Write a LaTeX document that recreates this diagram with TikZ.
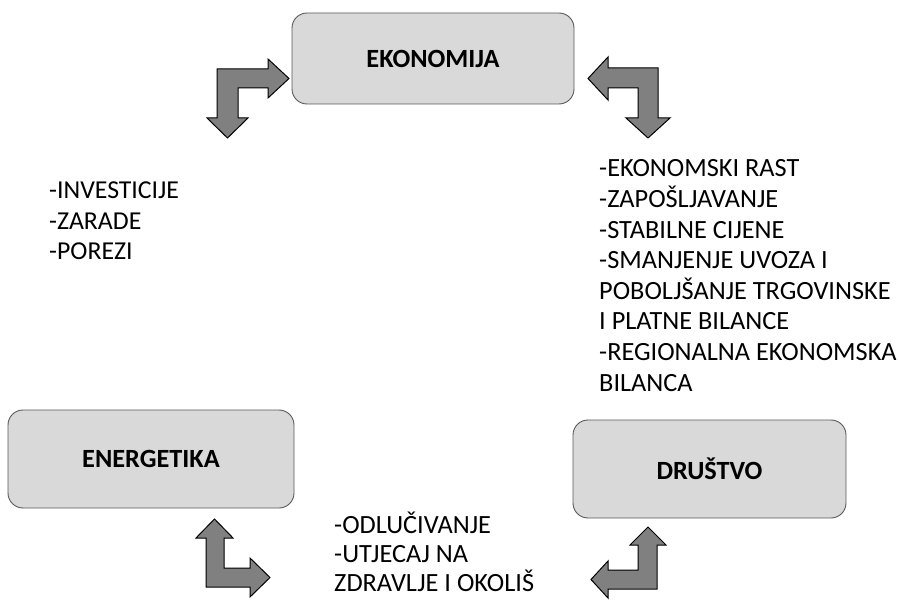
\documentclass[tikz,border=0pt]{standalone}
\usepackage{fontspec}
\setmainfont{Carlito}
\begin{document}
\begin{tikzpicture}[x=1pt,y=-1pt,
  box/.style={draw=black!65, line width=0.9pt, fill=black!15, rounded corners=15pt,
    font=\fontsize{26.3}{30}\selectfont\bfseries, inner sep=0pt},
  lst/.style={anchor=base west, inner sep=0pt, font=\fontsize{26.3}{30}\selectfont},
  blk/.style={draw=black, line width=1pt, fill=black!50, line join=miter}]
\useasboundingbox (0,0) rectangle (899,601);

% boxes
\node[box, minimum width=282pt, minimum height=91pt] (eko) at (433,58.5) {EKONOMIJA};
\node[box, minimum width=286pt, minimum height=98pt] (ene) at (151,459) {ENERGETIKA};
\node[box, minimum width=273pt, minimum height=98pt] (dru) at (709.5,469) {DRUŠTVO};

% left list
\node[lst, font=\fontsize{25.8}{30}\selectfont] (a1) at (49,198.3) {-INVESTICIJE};
\node[lst, font=\fontsize{25.8}{30}\selectfont] (a2) at (49,229.1) {-ZARADE};
\node[lst, font=\fontsize{25.8}{30}\selectfont] (a3) at (49,259.9) {-POREZI};

% right list
\node[lst] (b1) at (599,177.0) {-EKONOMSKI RAST};
\node[lst] (b2) at (599,207.6) {-ZAPOŠLJAVANJE};
\node[lst] (b3) at (599,238.2) {-STABILNE CIJENE};
\node[lst] (b4) at (599,268.8) {-SMANJENJE UVOZA I};
\node[lst] (b5) at (599,299.4) {POBOLJŠANJE TRGOVINSKE};
\node[lst] (b6) at (599,330.0) {I PLATNE BILANCE};
\node[lst] (b7) at (599,360.6) {-REGIONALNA EKONOMSKA};
\node[lst] (b8) at (599,391.2) {BILANCA};

% bottom list
\node[lst] (c1) at (334,533.3) {-ODLUČIVANJE};
\node[lst] (c2) at (334,562.2) {-UTJECAJ NA};
\node[lst] (c3) at (334,591.1) {ZDRAVLJE I OKOLIŠ};

% block arrows
\draw[blk] (289,78.5) -- (268,59) -- (268,69) -- (217,69) -- (217,118) -- (207,118)
  -- (227.5,138) -- (248,118) -- (238,118) -- (238,88) -- (268,88) -- (268,98) -- cycle;
\draw[blk] (588,78.5) -- (608,57) -- (608,68) -- (658,68) -- (658,118) -- (670,118)
  -- (648,138) -- (626,118) -- (638,118) -- (638,88) -- (608,88) -- (608,100) -- cycle;
\draw[blk] (214.5,519) -- (233,538) -- (224,538) -- (224,568) -- (250,568) -- (250,558)
  -- (270,577.5) -- (250,597) -- (250,587) -- (206,587) -- (206,538) -- (196,538) -- cycle;
\draw[blk] (648,527) -- (666,545) -- (657,545) -- (657,589) -- (608,589) -- (608,598)
  -- (591,579.5) -- (608,561) -- (608,570) -- (638,570) -- (638,545) -- (630,545) -- cycle;
\end{tikzpicture}
\end{document}
